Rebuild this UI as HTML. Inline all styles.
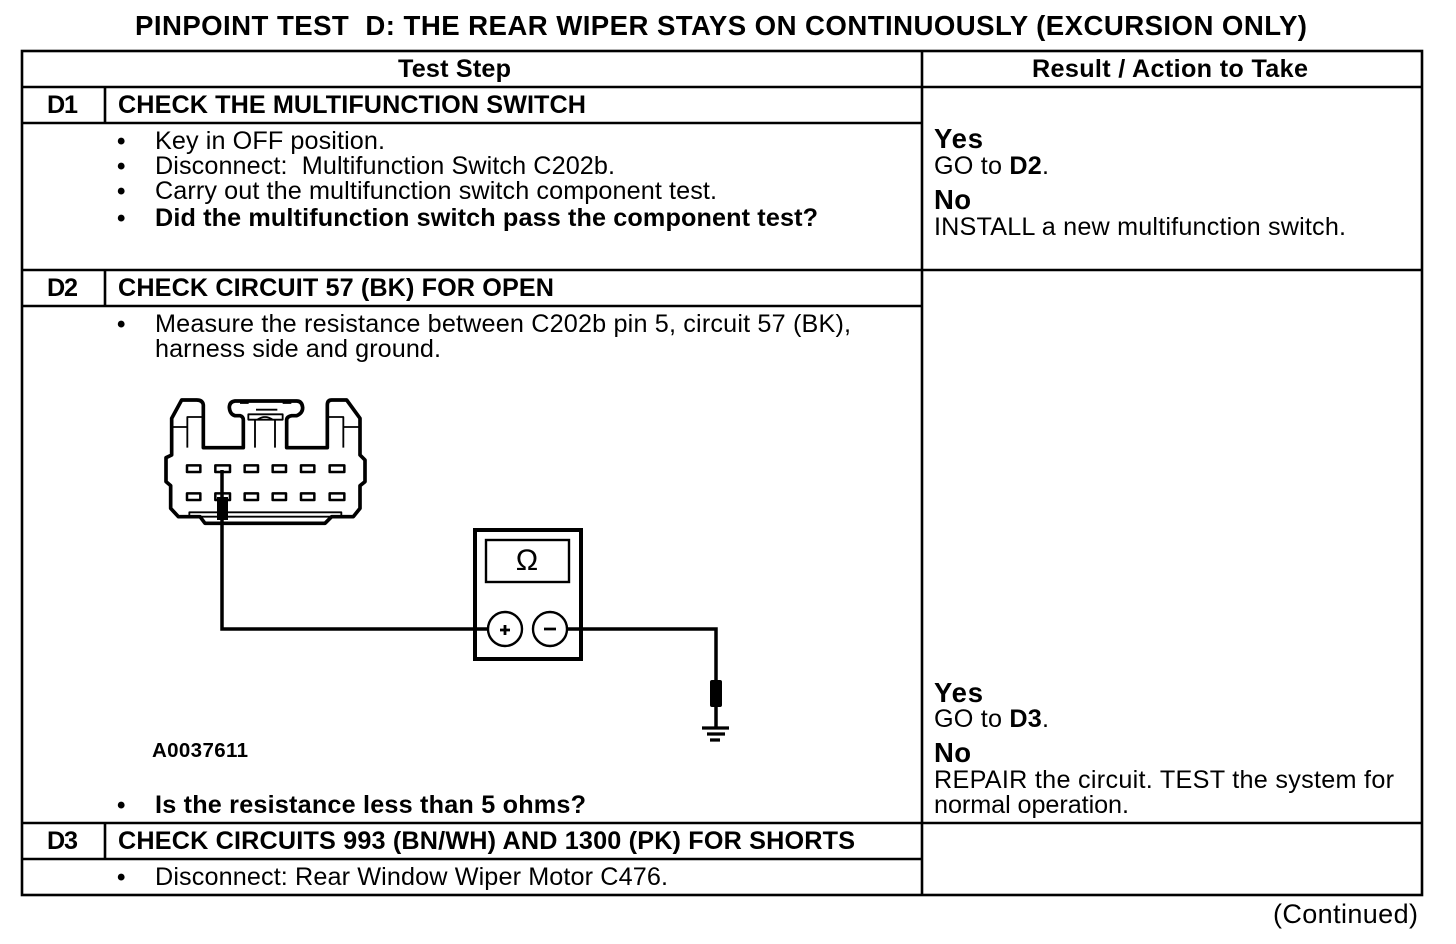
<!DOCTYPE html>
<html>
<head>
<meta charset="utf-8">
<style>
html,body{margin:0;padding:0;background:#fff;width:1456px;height:944px;overflow:hidden}
svg{display:block}
text{font-family:"Liberation Sans",sans-serif;fill:#000;font-size:25.2px}
.b{font-weight:bold}
.s{font-size:25.2px;font-weight:bold}
.t{font-size:27.6px;font-weight:bold}
.h{font-size:27.5px;font-weight:bold}
.u{font-size:24px;font-weight:bold}
</style>
</head>
<body>
<svg width="1456" height="944" viewBox="0 0 1456 944" xmlns="http://www.w3.org/2000/svg">
<g stroke="#000" stroke-width="2.6" fill="none">
<rect x="22" y="51" width="1400" height="844"/>
<path d="M922 51V895M22 87H1422M22 270H1422M22 823H1422M22 123H922M22 306H922M22 859H922M105 87V123M105 270V306M105 823V859"/>
</g>

<text class="t" x="135" y="35" textLength="1172" lengthAdjust="spacing">PINPOINT TEST&#160; D: THE REAR WIPER STAYS ON CONTINUOUSLY (EXCURSION ONLY)</text>
<text class="s" x="398" y="77" textLength="113" lengthAdjust="spacing">Test Step</text>
<text class="s" x="1032" y="77" textLength="276" lengthAdjust="spacing">Result / Action to Take</text>

<text class="s" x="47" y="113" textLength="31" lengthAdjust="spacing">D1</text>
<text class="s" x="118" y="113" textLength="468" lengthAdjust="spacing">CHECK THE MULTIFUNCTION SWITCH</text>
<text class="u" x="117" y="149">•</text>
<text x="155" y="149" textLength="230" lengthAdjust="spacing">Key in OFF position.</text>
<text class="u" x="117" y="174">•</text>
<text x="155" y="174" textLength="460" lengthAdjust="spacing">Disconnect:&#160; Multifunction Switch C202b.</text>
<text class="u" x="117" y="199">•</text>
<text x="155" y="199" textLength="562" lengthAdjust="spacing">Carry out the multifunction switch component test.</text>
<text class="u" x="117" y="226">•</text>
<text class="b" x="155" y="226" textLength="663" lengthAdjust="spacing">Did the multifunction switch pass the component test?</text>

<text class="h" x="934" y="148" textLength="49" lengthAdjust="spacing">Yes</text>
<text x="934" y="174" textLength="115" lengthAdjust="spacing">GO to <tspan class="b">D2</tspan>.</text>
<text class="h" x="934" y="209" textLength="37" lengthAdjust="spacing">No</text>
<text x="934" y="235" textLength="412" lengthAdjust="spacing">INSTALL a new multifunction switch.</text>

<text class="s" x="47" y="296" textLength="31" lengthAdjust="spacing">D2</text>
<text class="s" x="118" y="296" textLength="436" lengthAdjust="spacing">CHECK CIRCUIT 57 (BK) FOR OPEN</text>
<text class="u" x="117" y="332">•</text>
<text x="155" y="332" textLength="696" lengthAdjust="spacing">Measure the resistance between C202b pin 5, circuit 57 (BK),</text>
<text x="155" y="357" textLength="286" lengthAdjust="spacing">harness side and ground.</text>

<g transform="translate(150 385) scale(.33333)" fill="none" stroke="#000" stroke-linejoin="round">
<path stroke-width="11" d="M160 188V60Q158 45 140 45H95L65 100V210L48 218V290L62 302V370L85 395H150L165 415H525L545 395H610L630 370V302L645 290V225L630 210V100L590 45H545Q532 45 532 60V188H410V105Q410 95 425 92H440Q458 85 458 68Q456 48 440 48H255Q238 50 238 68Q240 88 255 92H270Q280 95 280 105V188Z"/>
<path stroke-width="5.5" d="M112 188V96H160M70 126H112M532 96H580V188M580 126H628M295 88H398V104H295ZM315 104V188M375 104V188M322 104Q345 88 368 104M318 74H382M270 54H296M398 54H424M118 395V382H574V395M125 395H565"/>
<g stroke-width="7.5">
<rect x="111" y="241" width="40" height="20"/><rect x="196" y="241" width="44" height="20"/><rect x="284" y="241" width="40" height="20"/><rect x="368" y="241" width="40" height="20"/><rect x="453" y="241" width="40" height="20"/><rect x="539" y="241" width="44" height="20"/>
<rect x="111" y="325" width="40" height="20"/><rect x="196" y="325" width="44" height="20"/><rect x="284" y="325" width="40" height="20"/><rect x="368" y="325" width="40" height="20"/><rect x="453" y="325" width="40" height="20"/><rect x="539" y="325" width="44" height="20"/>
</g>
</g>

<g fill="none" stroke="#000">
<path stroke-width="3.5" d="M222 470V629H474"/>
<path stroke-width="3.5" d="M582 629H716V728"/>
<rect x="475" y="530" width="106" height="129" stroke-width="4"/>
<rect x="486" y="540" width="83" height="42" stroke-width="2.4"/>
<circle cx="505" cy="629" r="17" stroke-width="2.4" fill="#fff"/>
<circle cx="550" cy="629" r="17" stroke-width="2.4" fill="#fff"/>
<path stroke-width="2.8" d="M500 630H510M505 625V635M544 629H556"/>
<path stroke-width="3.5" d="M474 629H488M567 629H582"/>
<path stroke-width="3.2" d="M702 728H729M707 734H725M710 740H720"/>
</g>
<rect x="217" y="497" width="11" height="23" fill="#000"/>
<rect x="710" y="680" width="12" height="27" rx="2" fill="#000"/>
<text x="527" y="570" text-anchor="middle" style="font-size:30px">Ω</text>
<text class="b" x="152" y="757" textLength="96" lengthAdjust="spacing" style="font-size:20.5px">A0037611</text>
<text class="u" x="117" y="813">•</text>
<text class="b" x="155" y="813" textLength="431" lengthAdjust="spacing">Is the resistance less than 5 ohms?</text>

<text class="h" x="934" y="702" textLength="49" lengthAdjust="spacing">Yes</text>
<text x="934" y="727" textLength="115" lengthAdjust="spacing">GO to <tspan class="b">D3</tspan>.</text>
<text class="h" x="934" y="762" textLength="37" lengthAdjust="spacing">No</text>
<text x="934" y="788" textLength="460" lengthAdjust="spacing">REPAIR the circuit. TEST the system for</text>
<text x="934" y="813" textLength="195" lengthAdjust="spacing">normal operation.</text>

<text class="s" x="47" y="849" textLength="31" lengthAdjust="spacing">D3</text>
<text class="s" x="118" y="849" textLength="737" lengthAdjust="spacing">CHECK CIRCUITS 993 (BN/WH) AND 1300 (PK) FOR SHORTS</text>
<text class="u" x="117" y="885">•</text>
<text x="155" y="885" textLength="513" lengthAdjust="spacing">Disconnect: Rear Window Wiper Motor C476.</text>
<text x="1273" y="923" textLength="145" lengthAdjust="spacing" style="font-size:27px">(Continued)</text>
</svg>
</body>
</html>
